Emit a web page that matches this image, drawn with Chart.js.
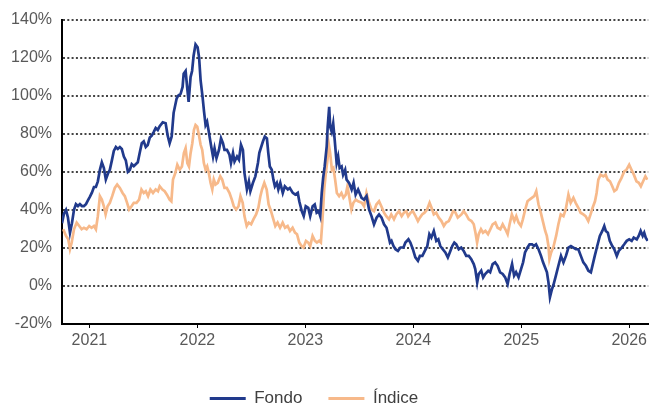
<!DOCTYPE html>
<html lang="es">
<head>
<meta charset="utf-8">
<script src="https://cdn.jsdelivr.net/npm/chart.js"></script>
<style>
  html, body { margin: 0; padding: 0; background: #fff; }
  #wrap { width: 650px; height: 407px; }
</style>
</head>
<body>
<div id="wrap"><canvas id="grafico" width="650" height="407"></canvas></div>
<script>
// Fechas en años decimales, rentabilidad acumulada en %
const fechasFondo = [
  2020.746, 2020.764, 2020.783, 2020.801, 2020.820, 2020.838, 2020.857, 2020.875, 2020.894, 2020.912,
  2020.931, 2020.949, 2020.968, 2020.986, 2021.005, 2021.023, 2021.042, 2021.060, 2021.078, 2021.097,
  2021.115, 2021.134, 2021.152, 2021.171, 2021.189, 2021.208, 2021.226, 2021.245, 2021.263, 2021.282,
  2021.300, 2021.319, 2021.337, 2021.356, 2021.374, 2021.392, 2021.411, 2021.429, 2021.448, 2021.466,
  2021.485, 2021.503, 2021.522, 2021.540, 2021.559, 2021.577, 2021.596, 2021.614, 2021.633, 2021.651,
  2021.679, 2021.706, 2021.725, 2021.743, 2021.762, 2021.780, 2021.808, 2021.822, 2021.845, 2021.863,
  2021.873, 2021.891, 2021.905, 2021.919, 2021.937, 2021.951, 2021.965, 2021.983, 2022.002, 2022.016,
  2022.030, 2022.048, 2022.062, 2022.076, 2022.090, 2022.103, 2022.113, 2022.131, 2022.145, 2022.159,
  2022.177, 2022.200, 2022.219, 2022.237, 2022.251, 2022.274, 2022.297, 2022.311, 2022.330, 2022.344,
  2022.367, 2022.385, 2022.404, 2022.422, 2022.436, 2022.459, 2022.477, 2022.491, 2022.514, 2022.537,
  2022.561, 2022.574,
  2022.607, 2022.625, 2022.644, 2022.657, 2022.671, 2022.689, 2022.704, 2022.718, 2022.736, 2022.750,
  2022.768, 2022.791, 2022.810, 2022.838, 2022.856, 2022.884, 2022.907, 2022.930, 2022.944, 2022.967,
  2022.985, 2023.004, 2023.027, 2023.045, 2023.068, 2023.087, 2023.105, 2023.124, 2023.138, 2023.152,
  2023.165, 2023.179, 2023.198, 2023.207, 2023.221, 2023.230, 2023.244, 2023.258, 2023.272, 2023.290,
  2023.304, 2023.318, 2023.336, 2023.350, 2023.369, 2023.382, 2023.405, 2023.429, 2023.447, 2023.466,
  2023.489,
  2023.521, 2023.544, 2023.567, 2023.590, 2023.613, 2023.636, 2023.660, 2023.683, 2023.706, 2023.729,
  2023.752, 2023.770, 2023.784, 2023.798, 2023.816, 2023.835, 2023.858, 2023.881, 2023.909, 2023.927,
  2023.955, 2023.973, 2023.996, 2024.019, 2024.043, 2024.061, 2024.084, 2024.107, 2024.130, 2024.149,
  2024.167, 2024.190, 2024.213, 2024.232, 2024.250, 2024.273, 2024.297, 2024.320, 2024.338, 2024.361,
  2024.380, 2024.398,
  2024.421, 2024.444, 2024.467, 2024.490, 2024.514, 2024.537, 2024.560, 2024.574, 2024.592, 2024.606,
  2024.629, 2024.647, 2024.666, 2024.694, 2024.712, 2024.735, 2024.758, 2024.781, 2024.804, 2024.828,
  2024.851, 2024.874, 2024.892, 2024.915, 2024.934, 2024.952, 2024.975, 2024.998, 2025.017, 2025.035,
  2025.058, 2025.077, 2025.100, 2025.118, 2025.137, 2025.160, 2025.183, 2025.202, 2025.220, 2025.238,
  2025.252, 2025.266, 2025.285, 2025.298,
  2025.321, 2025.344, 2025.368, 2025.391, 2025.414, 2025.437, 2025.460, 2025.483, 2025.506, 2025.529,
  2025.552, 2025.575, 2025.599, 2025.622, 2025.645, 2025.663, 2025.681, 2025.704, 2025.728, 2025.751,
  2025.769, 2025.783, 2025.802, 2025.820, 2025.843, 2025.862, 2025.885, 2025.903, 2025.931, 2025.954,
  2025.977, 2026.000, 2026.023, 2026.042, 2026.070, 2026.088, 2026.106, 2026.125, 2026.139, 2026.153,
  2026.171
];
const fondo = [
  33, 38, 40, 36, 28, 33, 40, 43, 42, 43,
  42, 42, 43, 45, 47, 49, 52, 52, 55, 61,
  65, 62, 56, 59, 61, 66, 71, 73, 72, 73,
  72, 68, 66, 60, 61, 64, 63, 64, 65, 70,
  75, 76, 73, 74, 78, 79, 81, 83, 82, 84,
  86, 85.5, 79, 75, 78.5, 91, 98.5, 100, 101, 104.6,
  111.6, 113, 104.6, 96.8, 109.8, 113, 121, 127, 125.5, 120,
  108, 99.4, 91.5, 84.6, 86.3, 82, 78.5, 72.4, 68, 72.4,
  67.2, 71.5, 77.6, 75, 71.5, 71.5, 69, 64.6, 69.8, 65.4,
  68, 66.3, 74.2, 71.5, 59.4, 50.7, 55, 49.8, 54.1, 57.6,
  64.6, 70,
  75.9, 78.5, 77.6, 69.8, 62.8, 61.1, 55.9, 52.4, 54.2, 50.7,
  54.2, 48.9, 52.4, 50.7, 51.5, 48.9, 48, 48.9, 44.5, 39.3,
  36.7, 41.9, 41.1, 36.7, 41.9, 42.8, 38.5, 39.3, 36.7, 48.9,
  56.8, 62.8, 73.3, 83.7, 94.1, 83.7, 81.1, 85.5, 76.8, 64.6,
  68, 62, 62.8, 58.5, 61.1, 55.9, 54.2, 50.7, 54.2, 48,
  50.7,
  46.3, 45.4, 47.2, 40.2, 36.7, 32.4, 35.9, 37.6, 35.9, 32.4,
  30.6, 26.3, 22.8, 23.7, 21, 19.3, 18.4, 20.2, 20.2, 22.8,
  24.5, 22.8, 19.3, 15, 13.2, 15.8, 15.8, 18.4, 21, 27.2,
  25.4, 28.9, 23.7, 24.5, 21, 19.3, 17.6, 15, 17.6, 21,
  22.8, 21.9,
  19.3, 20.2, 18.4, 15.8, 15.8, 14.1, 11.5, 8.9, 1.9, 6.3,
  8, 4.5, 6.3, 8, 7.2, 11.5, 12.4, 10.6, 7.2, 6.3,
  4.5, 1, 6.3, 11.5, 5.4, 7.2, 4.5, 8.9, 12.4, 17.6,
  20.2, 21.9, 21.9, 21, 21.9, 19.3, 15.8, 12.4, 9.8, 7.2,
  1.9, -5.9, -1.6, 0.5,
  5.4, 10.6, 15.8, 12.4, 15.8, 20.2, 21, 20.2, 19.3, 19.3,
  15.8, 12.4, 10.6, 8, 7.2, 11.5, 15.8, 21, 26.3, 28.9,
  31.5, 28.9, 28, 23.7, 21, 19.3, 15.8, 18.4, 20.2, 21.9,
  23.7, 24.5, 23.7, 25.4, 24.5, 26.3, 28.9, 26.3, 28, 25.4,
  23.7
];

const fechasIndice = [
  2020.758, 2020.783, 2020.804, 2020.820, 2020.836, 2020.857, 2020.882, 2020.906, 2020.928, 2020.949,
  2020.974, 2020.998, 2021.020, 2021.042, 2021.060, 2021.078, 2021.097, 2021.115, 2021.134, 2021.150,
  2021.168, 2021.189, 2021.211, 2021.235, 2021.257, 2021.282, 2021.307, 2021.328, 2021.349, 2021.368,
  2021.390, 2021.411, 2021.436, 2021.460, 2021.482, 2021.503, 2021.522, 2021.543, 2021.565, 2021.589,
  2021.614, 2021.635, 2021.651, 2021.676, 2021.697, 2021.718, 2021.743, 2021.759, 2021.774, 2021.796,
  2021.814, 2021.836, 2021.857, 2021.875, 2021.891, 2021.907, 2021.922, 2021.937, 2021.953, 2021.968,
  2021.983, 2021.999, 2022.014, 2022.030, 2022.045, 2022.060, 2022.076, 2022.091, 2022.106, 2022.122,
  2022.138, 2022.152, 2022.168, 2022.189, 2022.212, 2022.230, 2022.251, 2022.272, 2022.297, 2022.319,
  2022.337, 2022.359, 2022.381, 2022.399, 2022.420, 2022.436, 2022.457, 2022.476, 2022.498, 2022.519,
  2022.544, 2022.565, 2022.583, 2022.599, 2022.620, 2022.642, 2022.660, 2022.682, 2022.704, 2022.722,
  2022.743, 2022.766, 2022.790, 2022.812, 2022.836, 2022.858, 2022.882, 2022.904, 2022.923, 2022.944,
  2022.965, 2022.983, 2023.006, 2023.027, 2023.045, 2023.067, 2023.089, 2023.107, 2023.128, 2023.144,
  2023.159, 2023.175, 2023.190, 2023.205, 2023.218, 2023.230, 2023.246, 2023.260, 2023.276, 2023.292,
  2023.313, 2023.334, 2023.353, 2023.375, 2023.390, 2023.406, 2023.427, 2023.445, 2023.467, 2023.489,
  2023.523, 2023.544, 2023.566, 2023.590, 2023.612, 2023.636, 2023.658, 2023.683, 2023.704, 2023.729,
  2023.750, 2023.775, 2023.796, 2023.821, 2023.842, 2023.867, 2023.892, 2023.913, 2023.935, 2023.953,
  2023.975, 2023.996, 2024.021, 2024.043, 2024.061, 2024.082, 2024.104, 2024.128, 2024.151, 2024.169,
  2024.190, 2024.212, 2024.236, 2024.261, 2024.283, 2024.304, 2024.329, 2024.350, 2024.369, 2024.391,
  2024.412, 2024.446, 2024.467, 2024.489, 2024.514, 2024.539, 2024.560, 2024.576, 2024.591, 2024.606,
  2024.627, 2024.646, 2024.668, 2024.692, 2024.714, 2024.735, 2024.760, 2024.781, 2024.806, 2024.828,
  2024.853, 2024.874, 2024.892, 2024.913, 2024.936, 2024.954, 2024.975, 2024.997, 2025.015, 2025.037,
  2025.058, 2025.077, 2025.098, 2025.120, 2025.139, 2025.160, 2025.181, 2025.200, 2025.222, 2025.237,
  2025.252, 2025.261, 2025.277, 2025.298, 2025.323, 2025.344, 2025.366, 2025.391, 2025.412, 2025.437,
  2025.458, 2025.483, 2025.504, 2025.529, 2025.550, 2025.575, 2025.596, 2025.621, 2025.642, 2025.661,
  2025.683, 2025.698, 2025.714, 2025.735, 2025.760, 2025.781, 2025.800, 2025.822, 2025.843, 2025.862,
  2025.883, 2025.905, 2025.929, 2025.954, 2025.975, 2026.000, 2026.021, 2026.043, 2026.067, 2026.089,
  2026.108, 2026.129, 2026.150, 2026.168
];
const indice = [
  29.8, 26.3, 24.5, 19.3, 22.8, 29.8, 33.3, 31.5, 29.8, 30.6,
  29.8, 31.5, 30.6, 31.5, 29.8, 36.7, 47.2, 45.4, 41.9, 37.6,
  41.9, 43.7, 47.2, 51.5, 53.3, 51.5, 48.9, 47.2, 43.7, 40.2,
  41.9, 43.7, 43.7, 45.4, 50.7, 48.9, 49.8, 47.2, 50.7, 48.9,
  50.7, 49.8, 52.4, 50.7, 49.8, 48, 45.4, 44.5, 55.9, 59.4,
  63.7, 61.1, 62.8, 69.8, 72.4, 64.6, 62.8, 69.8, 75, 82,
  84.6, 83.7, 79.4, 74.2, 71.5, 64.6, 61.1, 62.8, 59.4, 54.2,
  50.7, 55.9, 53.3, 54.2, 57.6, 55.9, 51.5, 51.5, 48.9, 45.4,
  41.9, 40.2, 41.9, 47.2, 43.7, 36.7, 31.5, 33.3, 32.4, 35,
  37.6, 41.1, 47, 50.7, 54.2, 50.7, 42.8, 39.3, 35, 31.5,
  33.3, 30.6, 33.3, 30.6, 31.5, 28.9, 30.6, 28, 27.2, 22.8,
  21, 20.2, 23.7, 22.8, 21, 26.3, 23.7, 22.8, 23.7, 22.8,
  35, 50.7, 59.4, 66.3, 74.2, 69.8, 61.1, 62, 55.9, 48.9,
  47.2, 48.9, 46.3, 48, 52.4, 47.2, 40.2, 43.7, 45.4, 44.5,
  43.7, 41.9, 48.9, 43.7, 40.2, 39.3, 42.8, 44.5, 41.9, 38.5,
  36.7, 35, 37.6, 35, 37.6, 39.3, 36.7, 38.5, 39.3, 36.7,
  38.5, 39.3, 36.7, 34.1, 35.9, 37.6, 38.5, 40.2, 43.7, 41.1,
  37.6, 38.5, 35.9, 34.1, 31.5, 33.3, 34.1, 36.7, 39.3, 38.5,
  35.9, 37.6, 39.3, 37.6, 35, 34.1, 32.4, 28, 22.8, 27.2,
  29.8, 28, 28.9, 27.2, 29.8, 32.4, 33.3, 30.6, 29.8, 32.4,
  29.8, 27.2, 32.4, 37.6, 34.1, 36.7, 33.3, 31.5, 35, 40.2,
  44.5, 45.4, 46.3, 47.2, 49.8, 42.8, 38.5, 34.1, 28.9, 26.3,
  21, 14.1, 17.6, 20.5, 26.3, 32.4, 37.6, 36.7, 40.2, 48,
  43.7, 46.3, 43.7, 41.1, 38.5, 37.6, 36.7, 34.1, 37.6, 41.1,
  44.5, 48.9, 55.9, 58.5, 57.6, 58.5, 55.9, 55, 52.4, 49.8,
  50.7, 54.2, 56.8, 60.2, 61.1, 63.7, 61.1, 58.5, 55, 54.2,
  52.4, 55, 57.6, 55.9
];

const anios = [2021, 2022, 2023, 2024, 2025, 2026];
const etiquetasAnio = ['2021', '2022', '2023', '2024', '2025', '2026'];
const ticksY = [-20, 0, 20, 40, 60, 80, 100, 120, 140];

function puntos(xs, ys) {
  return xs.map((x, i) => ({ x: x, y: ys[i] }));
}

const gris = '#595959';
const fuente = "'Liberation Sans', Arial, sans-serif";

// fija la altura de la leyenda y la desplaza un poco a la izquierda, como en el original
const ajusteLeyenda = {
  id: 'ajusteLeyenda',
  beforeInit(chart) {
    const fitOrig = chart.legend.fit;
    chart.legend.fit = function () {
      fitOrig.bind(chart.legend)();
      this.height = 43;
    };
  },
  afterLayout(chart) {
    chart.legend.left -= 11;
    chart.legend.right -= 11;
  }
};

const ctx = document.getElementById('grafico').getContext('2d');
new Chart(ctx, {
  type: 'line',
  data: {
    datasets: [
      {
        label: 'Fondo',
        data: puntos(fechasFondo, fondo),
        borderColor: '#213A8C',
        backgroundColor: '#213A8C',
        borderWidth: 2.7,
        pointRadius: 0,
        tension: 0
      },
      {
        label: 'Índice',
        data: puntos(fechasIndice, indice),
        borderColor: '#F7B98A',
        backgroundColor: '#F7B98A',
        borderWidth: 2.7,
        pointRadius: 0,
        tension: 0
      }
    ]
  },
  options: {
    responsive: false,
    animation: false,
    devicePixelRatio: 1,
    layout: { padding: { top: 19, right: 0, bottom: 0, left: 0 } },
    plugins: {
      tooltip: { enabled: false },
      legend: {
        position: 'bottom',
        labels: {
          boxWidth: 36,
          boxHeight: 3,
          padding: 26,
          color: '#404040',
          font: { family: fuente, size: 17 },
          generateLabels(chart) {
            return Chart.defaults.plugins.legend.labels.generateLabels(chart).map(item => {
              item.lineWidth = 0;
              item.fillStyle = item.strokeStyle;
              return item;
            });
          }
        }
      }
    },
    scales: {
      x: {
        type: 'linear',
        min: 2020.746,
        max: 2026.176,
        bounds: 'data',
        afterBuildTicks(scale) {
          scale.ticks = anios.map(v => ({ value: v }));
        },
        afterFit(scale) {
          scale.height = 40;
        },
        ticks: {
          autoSkip: false,
          maxRotation: 0,
          padding: 3,
          color: gris,
          font: { family: fuente, size: 16 },
          callback(value) {
            const i = anios.indexOf(value);
            return i >= 0 ? etiquetasAnio[i] : '';
          }
        },
        grid: {
          drawOnChartArea: false,
          drawTicks: true,
          tickLength: 4,
          color: '#000',
          lineWidth: 1
        },
        border: { display: true, color: '#000', width: 2 }
      },
      y: {
        min: -20,
        max: 140,
        afterBuildTicks(scale) {
          scale.ticks = ticksY.map(v => ({ value: v }));
        },
        afterFit(scale) {
          scale.width = 62;
        },
        ticks: {
          padding: 10,
          color: gris,
          font: { family: fuente, size: 16 },
          callback: v => v + '%'
        },
        grid: {
          drawTicks: false,
          color: '#444',
          lineWidth: 2
        },
        border: { display: true, color: '#000', width: 2, dash: [2, 2.3] }
      }
    }
  },
  plugins: [ajusteLeyenda]
});
</script>
</body>
</html>
